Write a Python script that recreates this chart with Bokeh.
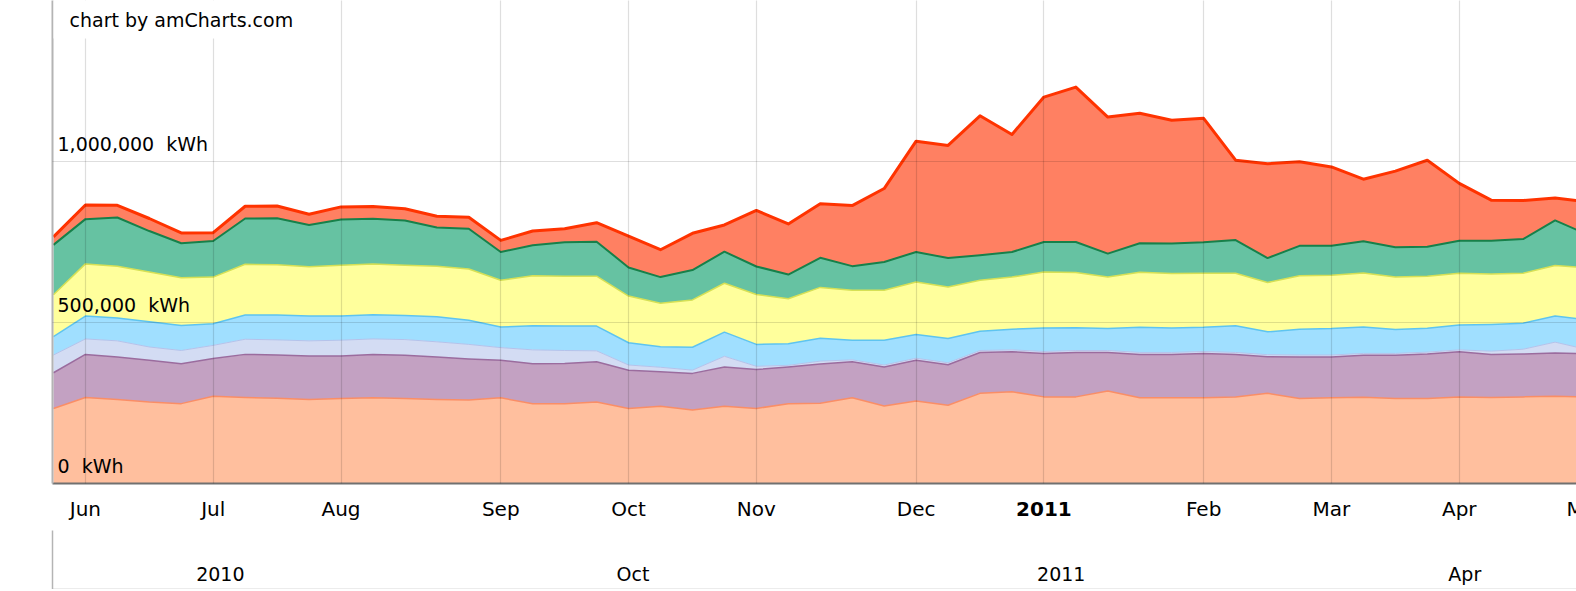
from datetime import datetime, timedelta
from bokeh.plotting import figure
from bokeh.models import ColumnDataSource, Range1d, FixedTicker, Label
from bokeh.layouts import column
from bokeh.embed import file_html
from bokeh.resources import INLINE
from bokeh.core.properties import value

# ---------------- data ----------------
dates = ['2010-05-31', '2010-06-07', '2010-06-14', '2010-06-21', '2010-06-28',
         '2010-07-05', '2010-07-12', '2010-07-19', '2010-07-26', '2010-08-02',
         '2010-08-09', '2010-08-16', '2010-08-23', '2010-08-30', '2010-09-06',
         '2010-09-13', '2010-09-20', '2010-09-27', '2010-10-04', '2010-10-11',
         '2010-10-18', '2010-10-25', '2010-11-01', '2010-11-08', '2010-11-15',
         '2010-11-22', '2010-11-29', '2010-12-06', '2010-12-13', '2010-12-20',
         '2010-12-27', '2011-01-03', '2011-01-10', '2011-01-17', '2011-01-24',
         '2011-01-31', '2011-02-07', '2011-02-14', '2011-02-21', '2011-02-28',
         '2011-03-07', '2011-03-14', '2011-03-21', '2011-03-28', '2011-04-04',
         '2011-04-11', '2011-04-18', '2011-04-25', '2011-05-02']

series_names = ["s1", "s2", "s3", "s4", "s5", "s6", "s7"]

s1 = [233000, 267000, 261000, 253000, 248000, 271000, 267000, 265000, 261000, 264000,
      266000, 264000, 261000, 259000, 266000, 248000, 248000, 253000, 233000, 240000,
      228000, 240000, 233000, 248000, 249000, 266000, 241000, 256000, 243000, 280000,
      285000, 269000, 269000, 287000, 266000, 266000, 266000, 269000, 280000, 264000,
      266000, 268000, 264000, 264000, 269000, 267000, 269000, 271000, 268000]
s2 = [111000, 134000, 132000, 130000, 124000, 117000, 134000, 134000, 135000, 132000,
      135000, 134000, 132000, 128000, 117000, 124000, 125000, 125000, 119000, 107000,
      114000, 122000, 121000, 114000, 122000, 112000, 121000, 127000, 126000, 127000,
      124000, 135000, 138000, 120000, 135000, 135000, 138000, 132000, 114000, 129000,
      127000, 130000, 134000, 138000, 140000, 134000, 133000, 134000, 135000]
s3 = [55000, 48000, 50000, 41000, 41000, 41000, 47000, 47000, 47000, 49000,
      48000, 49000, 47000, 45000, 39000, 43000, 40000, 34000, 16000, 14000,
      10000, 33000, 10000, 5000, 9000, 6000, 6000, 6000, 6000, 6000,
      6000, 6000, 6000, 6000, 6000, 6000, 6000, 6000, 6000, 6000,
      6000, 6000, 6000, 6000, 6000, 10000, 15000, 34000, 13000]
s4 = [57000, 71000, 71000, 78000, 78000, 67000, 75000, 77000, 77000, 75000,
      75000, 75000, 78000, 75000, 64000, 75000, 76000, 77000, 69000, 64000,
      71000, 75000, 68000, 67000, 71000, 61000, 77000, 74000, 75000, 60000,
      64000, 73000, 71000, 68000, 78000, 76000, 75000, 83000, 71000, 80000,
      82000, 82000, 74000, 74000, 77000, 83000, 81000, 81000, 92000]
s5 = [130000, 162000, 161000, 155000, 148000, 145000, 158000, 156000, 153000, 158000,
      158000, 156000, 157000, 159000, 145000, 155000, 155000, 155000, 145000, 135000,
      147000, 152000, 155000, 140000, 158000, 155000, 155000, 163000, 160000, 158000,
      162000, 174000, 171000, 160000, 171000, 169000, 168000, 163000, 153000, 166000,
      166000, 168000, 163000, 162000, 161000, 157000, 155000, 157000, 162000]
s6 = [155000, 139000, 151000, 127000, 107000, 112000, 142000, 145000, 130000, 142000,
      140000, 139000, 120000, 125000, 88000, 95000, 105000, 107000, 89000, 81000,
      93000, 98000, 87000, 75000, 92000, 75000, 88000, 93000, 90000, 78000,
      78000, 93000, 95000, 73000, 90000, 93000, 96000, 103000, 76000, 93000,
      91000, 98000, 93000, 91000, 101000, 103000, 106000, 140000, 104000]
s7 = [25000, 44000, 38000, 39000, 32000, 26000, 38000, 38000, 33000, 39000,
      38000, 36000, 35000, 36000, 36000, 44000, 42000, 59000, 97000, 85000,
      114000, 83000, 174000, 157000, 168000, 188000, 228000, 344000, 350000, 433000,
      365000, 450000, 481000, 424000, 404000, 383000, 385000, 248000, 293000, 261000,
      245000, 193000, 236000, 269000, 178000, 126000, 120000, 70000, 101000]

month_names = ["Jan", "Feb", "Mar", "Apr", "May", "Jun",
               "Jul", "Aug", "Sep", "Oct", "Nov", "Dec"]

y_ticks = [0, 500000, 1000000]
y_tick_labels = ["0\u00a0 kWh", "500,000\u00a0 kWh", "1,000,000\u00a0 kWh"]

scroll_dates = ["2010-07-01", "2010-10-01", "2011-01-01", "2011-04-01"]
scroll_labels = ["2010", "Oct", "2011", "Apr"]

# ---------------- styles ----------------
FONT = "DejaVu Sans"
fill_colors = ["#FFBF9E", "#C3A1C2", "#D3DCF3", "#A0DFFF", "#FFFF9C", "#66C2A2", "#FF8062"]
line_colors = ["#FA8E66", "#9B6C9E", "#B5C2EA", "#5EC4F0", "#D6E055", "#17804A", "#FF3300"]
line_widths = [1.5, 1.5, 1, 1.5, 1.5, 2, 3]

W = 1576
LEFT = 52
FRAME_W = W - LEFT
PX_PER_WEEK = 31.95
PX_PER_DAY_SCROLL = 4.57
x0 = -0.03
x1 = x0 + FRAME_W / PX_PER_WEEK
FRAME_H = 483
Y_MAX = 1500000

xs = list(range(len(dates)))
data = dict(x=xs)
for name, vals in zip(series_names, [s1, s2, s3, s4, s5, s6, s7]):
    data[name] = vals
src = ColumnDataSource(data)

# month ticks: first week of each month (January shows the year)
tick_idx, tick_lbl, year_idx, year_lbl = [], [], [], []
for i in range(1, len(dates)):
    if dates[i][:7] != dates[i - 1][:7]:
        m = int(dates[i][5:7])
        tick_idx.append(i)
        if m == 1:
            year_idx.append(i)
            year_lbl.append(dates[i][:4])
        else:
            tick_lbl.append((i, month_names[m - 1]))


def bare_axis(ax, color, width):
    ax.ticker = FixedTicker(ticks=[])
    ax.axis_line_color = color
    ax.axis_line_width = width
    ax.major_tick_line_color = None
    ax.minor_tick_line_color = None
    ax.major_tick_out = 0
    ax.major_tick_in = 0
    ax.minor_tick_out = 0
    ax.minor_tick_in = 0
    ax.major_label_standoff = 0
    ax.major_label_text_font_size = "0px"


# ---------------- main chart ----------------
p = figure(width=W, height=FRAME_H + 2, x_range=Range1d(x0, x1), y_range=Range1d(0, Y_MAX),
           output_backend="svg", toolbar_location=None, title=None,
           min_border_left=LEFT, min_border_right=0, min_border_top=0,
           min_border_bottom=2)
p.outline_line_color = None
p.background_fill_color = "white"
p.border_fill_color = "white"

p.varea_stack(stackers=series_names, x="x", color=fill_colors, source=src)
p.vline_stack(stackers=series_names, x="x", color=line_colors, line_width=line_widths,
              line_join="round", source=src)

p.xgrid.ticker = FixedTicker(ticks=tick_idx)
p.ygrid.ticker = FixedTicker(ticks=y_ticks)
for g in p.grid:
    g.grid_line_color = "black"
    g.grid_line_alpha = 0.13
    g.grid_line_width = 1.2
    g.level = "guide"

bare_axis(p.xaxis[0], "#707070", 2)
bare_axis(p.yaxis[0], "#b4b4b4", 2)

p.text(x=[x0] * len(y_ticks), y=y_ticks, text=y_tick_labels, x_offset=5, y_offset=-18,
       text_font=value(FONT), text_font_size="19px", text_baseline="middle",
       text_align="left", text_color="#000000")

p.add_layout(Label(x=x0, y=Y_MAX, text="chart by amCharts.com", x_offset=1, y_offset=4,
                   text_baseline="top", text_font=FONT, text_font_size="19px",
                   text_color="#000000", background_fill_color="white",
                   padding=dict(left=16, right=10, top=12, bottom=8)))

# ---------------- category axis labels strip ----------------
lab = figure(width=W, height=45, x_range=p.x_range, y_range=Range1d(0, 1),
             output_backend="svg", toolbar_location=None, title=None,
             min_border_left=LEFT, min_border_right=0, min_border_top=0, min_border_bottom=0)
lab.outline_line_color = None
lab.grid.visible = False
lab.xaxis.visible = False
lab.yaxis.visible = False
lab.text(x=[t[0] for t in tick_lbl], y=[0.48] * len(tick_lbl), text=[t[1] for t in tick_lbl],
         text_font=value(FONT), text_font_size="20px", text_baseline="middle",
         text_align="center", text_color="#000000")
lab.text(x=year_idx, y=[0.48] * len(year_idx), text=year_lbl,
         text_font=value(FONT), text_font_size="20px", text_font_style="bold",
         text_baseline="middle", text_align="center", text_color="#000000")

# ---------------- scrollbar strip (time-linear) ----------------
t0 = datetime.strptime(dates[0], "%Y-%m-%d")
t1 = t0 + timedelta(days=FRAME_W / PX_PER_DAY_SCROLL)
s = figure(width=W, height=59, x_axis_type="datetime", x_range=Range1d(t0, t1),
           y_range=Range1d(0, 1),
           output_backend="svg", toolbar_location=None, title=None,
           min_border_left=LEFT, min_border_right=0, min_border_top=0, min_border_bottom=0)
s.outline_line_color = None
s.grid.visible = False
bare_axis(s.xaxis[0], "#b4b4b4", 1.5)
bare_axis(s.yaxis[0], "#b4b4b4", 1.5)

s.text(x=[datetime.strptime(d, "%Y-%m-%d") for d in scroll_dates],
       y=[0.27] * len(scroll_dates), text=scroll_labels, x_offset=2,
       text_font=value(FONT), text_font_size="19px", text_baseline="middle",
       text_align="left", text_color="#000000")

layout = column(p, lab, s)
open("out.html", "w").write(file_html(layout, INLINE))
